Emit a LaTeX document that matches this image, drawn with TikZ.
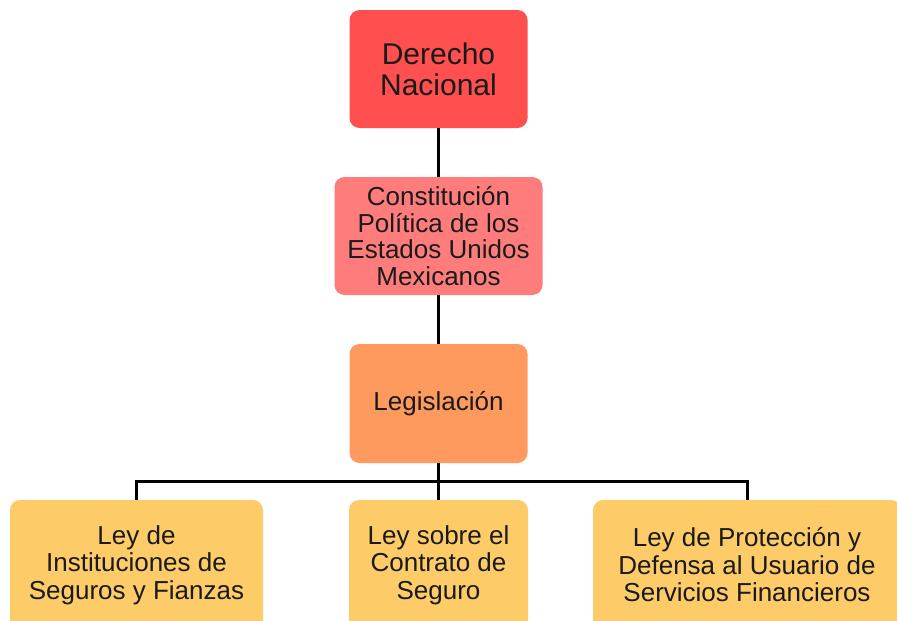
\documentclass[tikz,border=0pt]{standalone}
\usepackage{fontspec}
\setmainfont{Liberation Sans}
\definecolor{cred}{HTML}{FF4F4F}
\definecolor{cpink}{HTML}{FF7C7C}
\definecolor{corange}{HTML}{FF9A5E}
\definecolor{cyellow}{HTML}{FDCB68}
\definecolor{ctext}{HTML}{1A1A1A}
\begin{document}
\begin{tikzpicture}[x=1pt,y=1pt,
  boxbase/.style={rectangle, rounded corners=10pt, inner sep=0pt, align=center, text=ctext},
  bigbox/.style={boxbase, fill=cred, font=\fontsize{30}{31}\selectfont},
  midbox/.style={boxbase, font=\fontsize{26}{26.5}\selectfont},
  lowbox/.style={boxbase, fill=cyellow, font=\fontsize{26}{27.5}\selectfont},
  link/.style={draw=black, line width=3pt}]
\useasboundingbox (0,0) rectangle (897,-621);
\clip (0,0) rectangle (897,-621);
\fill[white] (0,0) rectangle (897,-621);
\node[bigbox, minimum width=178pt, minimum height=118pt] (b1) at (438.5,-69) {Derecho\\Nacional};
\node[midbox, fill=cpink, minimum width=208pt, minimum height=118pt] (b2) at (438.5,-236) {Constitución\\Política de los\\Estados Unidos\\Mexicanos};
\node[midbox, fill=corange, minimum width=178pt, minimum height=119pt] (b3) at (438.5,-403.5) {Legislación};
\node[lowbox, minimum width=253pt, minimum height=130pt] (b4) at (136.5,-565) {Ley de\\Instituciones de\\Seguros y Fianzas};
\node[lowbox, minimum width=179pt, minimum height=130pt] (b5) at (438.5,-565) {Ley sobre el\\Contrato de\\Seguro};
\node[lowbox, minimum width=308pt, minimum height=130pt] (b6) at (747,-565) {Ley de Protección y\\Defensa al Usuario de\\Servicios Financieros};
\draw[link] (b1.south) -- (b2.north);
\draw[link] (b2.south) -- (b3.north);
\draw[link] (b3.south) -- (b5.north);
\draw[link] (b4.north) -- ++(0,18) -| (b6.north);
\end{tikzpicture}
\end{document}
